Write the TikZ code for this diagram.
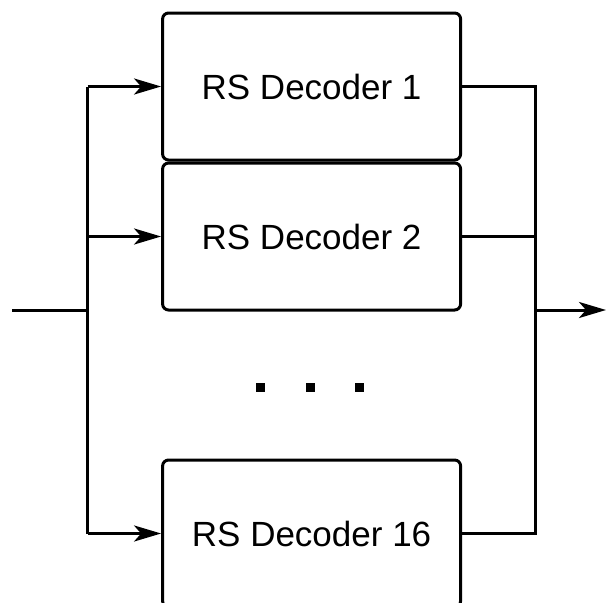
\documentclass[tikz,border=0pt]{standalone}
\usepackage{fontspec}
\setmainfont{Liberation Sans}
\usetikzlibrary{arrows.meta,positioning}

\begin{document}
\begin{tikzpicture}[x=1pt, y=-1pt,
		decoderbox/.style={draw, line width=3pt, rounded corners=6pt, minimum width=298pt, minimum height=147pt, inner sep=0pt, font=\fontsize{35}{40}\selectfont},
		busline/.style={line width=3pt},
		busarrow/.style={line width=3pt, -{Stealth[length=27pt, width=16pt, inset=7pt]}}]
	\useasboundingbox (0,0) rectangle (606,603);
	% decoders
	\node [decoderbox] (dec1) at (311.6,86.5) {RS Decoder 1};
	\node [decoderbox] (dec2) at (311.6,236.5) {RS Decoder 2};
	\node [decoderbox] (dec16) at (311.6,533.5) {RS Decoder 16};
	% bus points
	\coordinate (in) at (12,310);
	\coordinate (out) at (606,310);
	\coordinate (lbus1) at (87.5,86.5);
	\coordinate (lbus2) at (87.5,236.5);
	\coordinate (lbus16) at (87.5,533.5);
	\coordinate (lmid) at (87.5,310);
	\coordinate (rbus1) at (535.3,86.5);
	\coordinate (rbus2) at (535.3,236.5);
	\coordinate (rbus16) at (535.3,533.5);
	\coordinate (rmid) at (535.3,310);
	% input side
	\draw [busline] (in) -- (lmid);
	\draw [busline] (lbus1) -- (lbus16);
	\draw [busarrow] (lbus1) -- (dec1.west);
	\draw [busarrow] (lbus2) -- (dec2.west);
	\draw [busarrow] (lbus16) -- (dec16.west);
	% output side
	\draw [busline] (dec1.east) -- (rbus1) -- (rbus16) -- (dec16.east);
	\draw [busline] (dec2.east) -- (rbus2);
	\draw [busarrow] (rmid) -- (out);
	% dots
	\foreach \x in {260.5,310.5,359.5}
		\fill (\x-4.5,383) rectangle (\x+4.5,392);
\end{tikzpicture}
\end{document}
